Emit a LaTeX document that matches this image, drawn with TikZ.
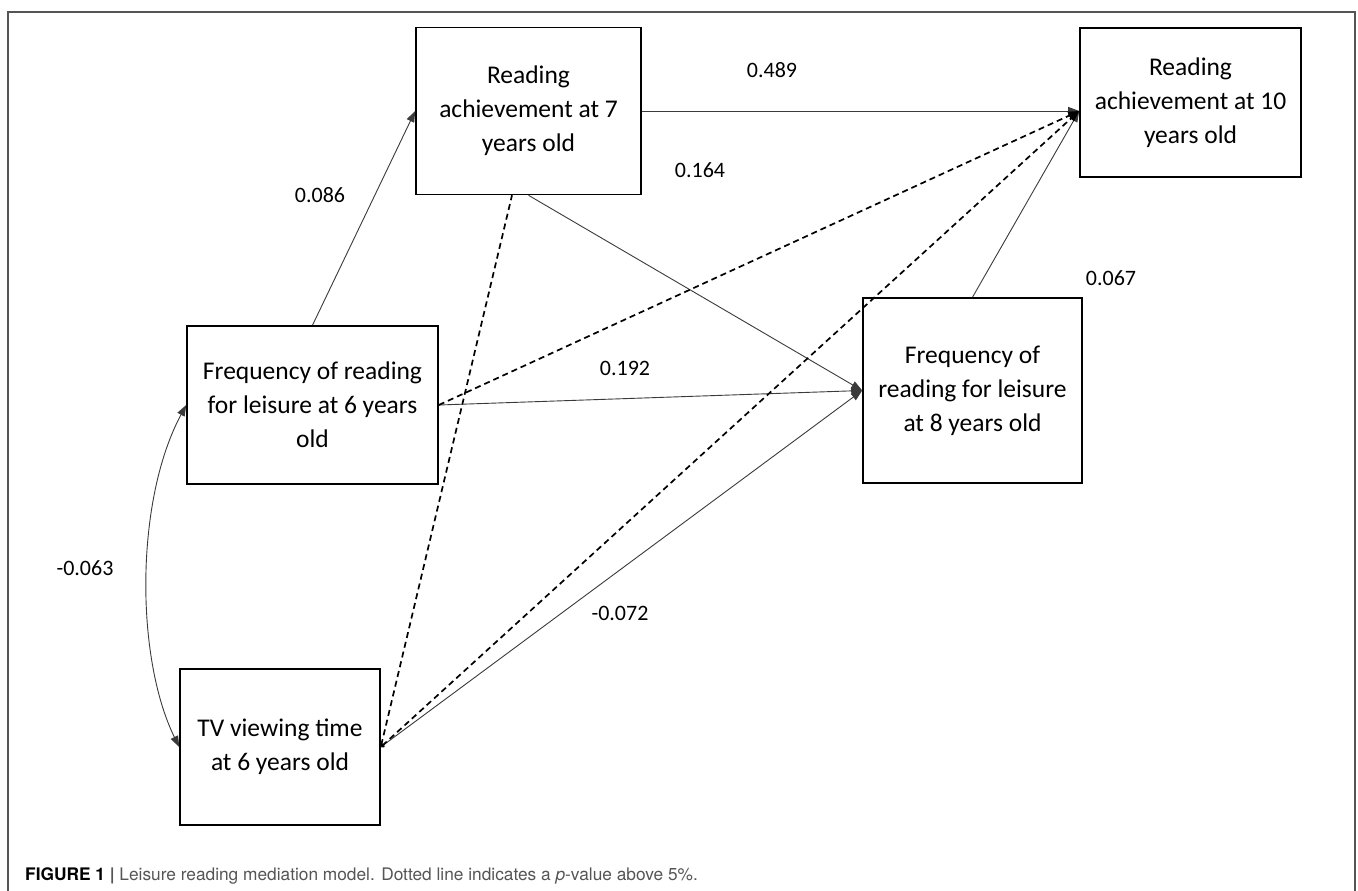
\documentclass[tikz,border=0pt]{standalone}
\usepackage{fontspec}
\setmainfont{Carlito}
\newfontfamily\capfont{TeX Gyre Heros}
\usetikzlibrary{arrows.meta, positioning}

\definecolor{capgray}{HTML}{555555}
\definecolor{linegray}{HTML}{3A3A3A}

\tikzset{
    varbox/.style={shape=rectangle, draw=black, line width=1.6pt, align=center,
        inner sep=0pt, font=\fontsize{25.5}{34}\selectfont},
    coef/.style={font=\fontsize{22}{26}\selectfont, inner sep=0pt},
    sigpath/.style={draw=linegray, line width=0.9pt, -{Triangle[length=11pt,width=8pt]}},
    nspath/.style={draw=black, line width=1.7pt, dash pattern=on 6pt off 4pt,
        {Straight Barb[length=2pt,width=4pt]}-{Triangle[length=11pt,width=8pt]}},
    tvpath/.style={sigpath, {Straight Barb[length=2pt,width=4pt]}-{Triangle[length=11pt,width=8pt]}}
}

\begin{document}
\begin{tikzpicture}[x=1pt, y=-1pt]
    \useasboundingbox (0,0) rectangle (1358,891);
    % frame
    \draw[draw=capgray, line width=1.2pt] (8,930) -- (8,12) -- (1355,12) -- (1355,930);

    % variables
    \path (528.5,111) node [varbox, minimum width=225pt, minimum height=167pt] (ach7)
            {Reading\\achievement at 7\\years old}
        (1190.5,102.5) node [varbox, minimum width=221pt, minimum height=149pt] (ach10)
            {Reading\\achievement at 10\\years old}
        (312.5,405) node [varbox, minimum width=251pt, minimum height=158pt] (freq6)
            {Frequency of reading\\for leisure at 6 years\\old}
        (972.5,390.5) node [varbox, minimum width=219pt, minimum height=185pt] (freq8)
            {Frequency of\\reading for leisure\\at 8 years old}
        (280,747) node [varbox, minimum width=200pt, minimum height=156pt] (tv6)
            {TV viewing time\\at 6 years old};

    \coordinate (ach10in) at ([yshift=-8.5pt]ach10.west);
    \coordinate (ach7in) at ([xshift=-16.5pt]ach7.south);

    % significant paths
    \draw[sigpath] (freq6.north) -- (ach7.west);
    \draw[sigpath] (ach7.east |- ach10in) -- (ach10in);
    \draw[sigpath] (ach7.south) -- (freq8.west);
    \draw[sigpath] (freq6.east) -- (freq8.west);
    \draw[sigpath] (freq8.north) -- (ach10in);
    \draw[tvpath] (tv6.east) -- (freq8.west);
    \draw[draw=linegray, line width=0.9pt, {Triangle[length=11pt,width=8pt]}-{Triangle[length=11pt,width=8pt]}]
        (freq6.west) .. controls +(-51,95) and +(-44,-90) .. (tv6.west);

    % non significant paths
    \draw[nspath, -{Triangle[length=11pt,width=8pt]}] (freq6.east) -- (ach10in);
    \draw[nspath] (tv6.east) -- (ach10in);
    \draw[nspath, {Straight Barb[length=2pt,width=4pt]}-] (tv6.east) -- (ach7in);

    % coefficients
    \path (772,70) node [coef] (c489) {0.489}
        (700,170) node [coef] (c164) {0.164}
        (320,195) node [coef] (c086) {0.086}
        (625,368) node [coef] (c192) {0.192}
        (1111,278) node [coef] (c067) {0.067}
        (620,613) node [coef] (c072) {-0.072}
        (85,568) node [coef] (c063) {-0.063};

    % caption
    \node [anchor=base west, inner sep=0pt, font=\capfont\fontsize{17.3}{20}\selectfont, text=capgray]
        (caption) at (25,880)
        {\textcolor{black}{\textbf{FIGURE 1}} \textbf{|} Leisure reading mediation model. Dotted line indicates a \textit{p}-value above 5\%.};
\end{tikzpicture}
\end{document}
